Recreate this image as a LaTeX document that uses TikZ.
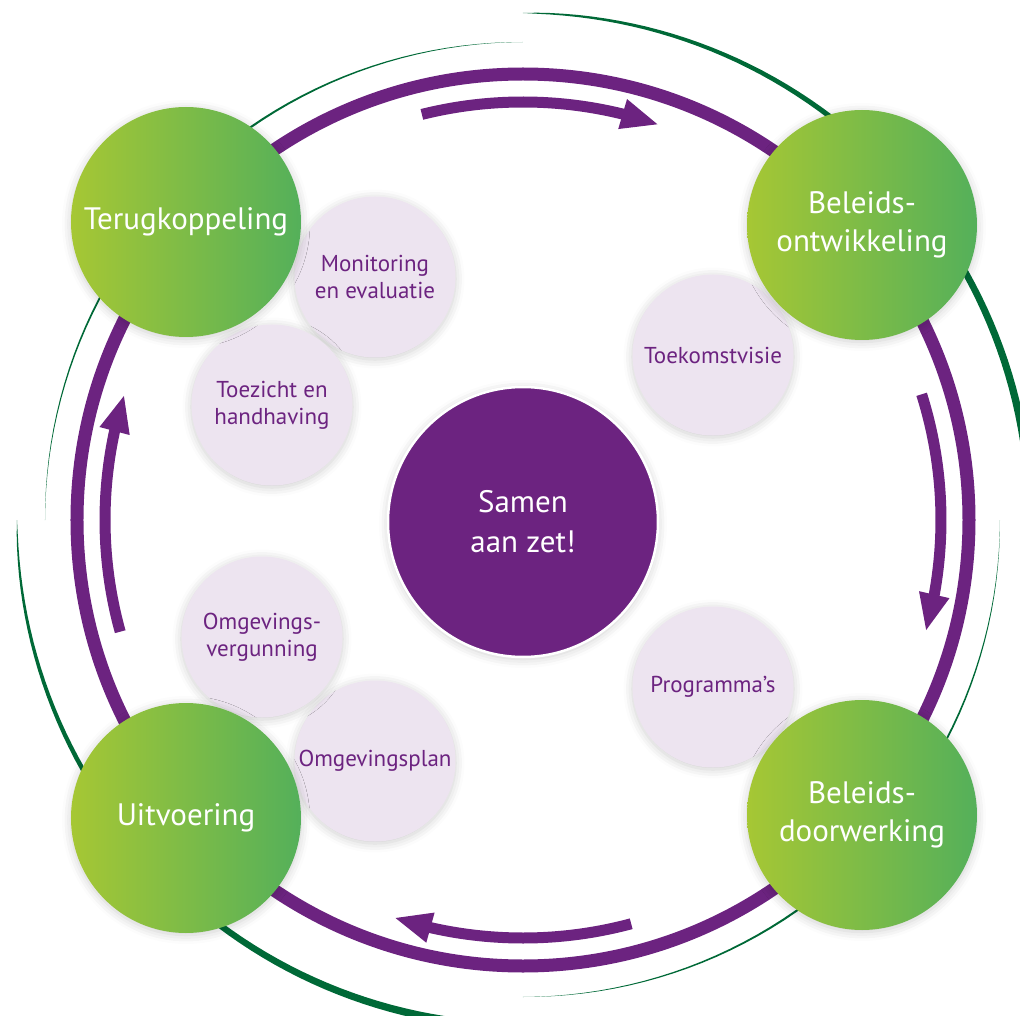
\documentclass[tikz,border=0pt]{standalone}
\usepackage{fontspec}
\setmainfont{PT Sans}
\usetikzlibrary{arrows.meta,bending,shadows.blur}

\definecolor{ringpurple}{RGB}{108,35,128}
\definecolor{lavender}{RGB}{237,228,240}
\definecolor{limegreen}{RGB}{166,199,52}
\definecolor{leafgreen}{RGB}{84,176,90}
\definecolor{darkgreen}{RGB}{0,105,55}

\tikzset{
  softshadow/.style={blur shadow={shadow xshift=0pt,shadow yshift=-2pt,
      shadow blur radius=9pt,shadow opacity=20}},
  phase/.style={circle,minimum size=230pt,inner sep=0pt,softshadow,
      left color=limegreen,right color=leafgreen,text=white,align=center,
      font=\fontsize{31}{38}\selectfont},
  topic/.style={circle,minimum size=161pt,inner sep=0pt,softshadow,
      fill=lavender,text=ringpurple,align=center,
      font=\fontsize{23}{27}\selectfont},
  hub/.style={circle,minimum size=270pt,inner sep=0pt,softshadow,
      fill=ringpurple,draw=white,line width=2.5pt,text=white,align=center,
      font=\fontsize{31}{40}\selectfont},
  cyclearrow/.style={ringpurple,line width=11pt,
      -{Triangle[length=38pt,width=28pt]}}
}

\begin{document}
\begin{tikzpicture}[x=1pt,y=1pt]
\useasboundingbox (-523,-495) rectangle (497,520);
\clip (-523,-495) rectangle (497,520);

% outer ring
\draw [ringpurple,line width=13pt] (0,0) circle (446);

% green arcs round the ring
\fill [darkgreen] plot[domain=90:-2,samples=60] (\x:{507+4*sqrt(abs(90-\x)/90)})
  -- plot[domain=-2:90,samples=60] (\x:{507-4*sqrt(abs(90-\x)/90)}) -- cycle;
\fill [darkgreen] plot[domain=180:272,samples=60] (\x:{506+4*sqrt(abs(\x-180)/90)})
  -- plot[domain=272:180,samples=60] (\x:{506-4*sqrt(abs(\x-180)/90)}) -- cycle;
\fill [darkgreen] plot[domain=90:180,samples=50] (\x:{478+1.1*sin(2*(\x-90))})
  -- plot[domain=180:90,samples=50] (\x:{478-1.1*sin(2*(\x-90))}) -- cycle;
\fill [darkgreen] plot[domain=-90:0,samples=50] (\x:{477+1.1*sin(2*(\x+90))})
  -- plot[domain=0:-90,samples=50] (\x:{477-1.1*sin(2*(\x+90))}) -- cycle;

% clockwise arrows
\foreach \s/\e in {104/71, 17.5/-15.5, -75/-108, 195.5/162.5}
  \draw [cyclearrow] (\s:418) arc [start angle=\s,end angle=\e,radius=418];

% topics
\node [topic] (monitoring) at (-148,243) {Monitoring\\en evaluatie};
\node [topic] (toezicht) at (-251,115) {Toezicht en\\handhaving};
\node [topic] (visie) at (190,165) {Toekomstvisie};
\node [topic] (programmas) at (190,-167) {Programma’s};
\node [topic] (plan) at (-148,-241) {Omgevingsplan};
\node [topic] (vergunning) at (-261,-117) {Omgevings-\\vergunning};

% phases
\node [phase] (terug) at (-337,298) {Terugkoppeling};
\node [phase] (ontw) at (339,295) {Beleids-\\ontwikkeling};
\node [phase] (door) at (339,-295) {Beleids-\\doorwerking};
\node [phase] (uitv) at (-337,-298) {Uitvoering};

\node [hub] (samen) at (0,-2) {Samen\\aan zet!};
\end{tikzpicture}
\end{document}
